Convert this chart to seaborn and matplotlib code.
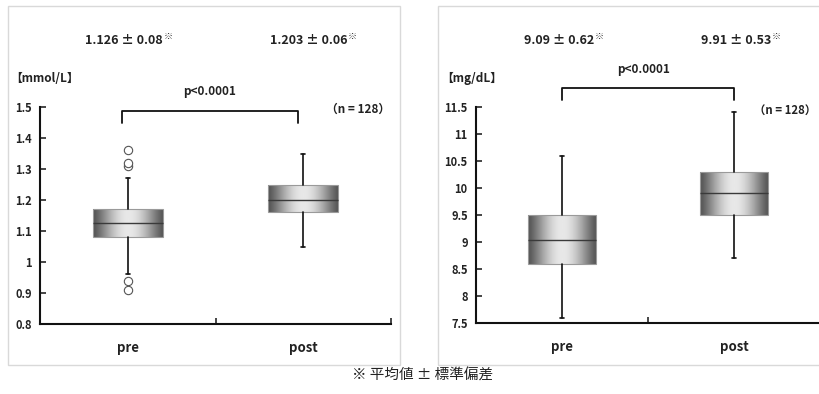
import numpy as np
import matplotlib
matplotlib.use('Agg')
import matplotlib.pyplot as plt
import matplotlib.transforms as mtransforms
from matplotlib.patches import Rectangle
import seaborn as sns

# ── Data ─────────────────────────────────────────────────────
groups = ['pre', 'post']

# left panel [mmol/L]
mmol_whislo = [0.96, 1.05]
mmol_q1 = [1.08, 1.16]
mmol_med = [1.126, 1.20]
mmol_q3 = [1.17, 1.25]
mmol_whishi = [1.27, 1.35]
mmol_fliers = [[0.91, 0.94, 1.31, 1.32, 1.36], []]
mmol_mean_sd = ['1.126 ± 0.08', '1.203 ± 0.06']
mmol_ticks = [0.8, 0.9, 1.0, 1.1, 1.2, 1.3, 1.4, 1.5]
mmol_ticklabels = ['0.8', '0.9', '1', '1.1', '1.2', '1.3', '1.4', '1.5']

# right panel [mg/dL]
mg_whislo = [7.6, 8.7]
mg_q1 = [8.6, 9.5]
mg_med = [9.03, 9.9]
mg_q3 = [9.5, 10.3]
mg_whishi = [10.6, 11.4]
mg_fliers = [[], []]
mg_mean_sd = ['9.09 ± 0.62', '9.91 ± 0.53']
mg_ticks = [7.5, 8, 8.5, 9, 9.5, 10, 10.5, 11, 11.5]
mg_ticklabels = ['7.5', '8', '8.5', '9', '9.5', '10', '10.5', '11', '11.5']

n_label = '（n = 128）'
p_label = 'p<0.0001'
caption = '※ 平均値 ± 標準偏差'

# ── Style ────────────────────────────────────────────────────
sns.set_style('ticks')
plt.rcParams['font.family'] = ['Noto Sans CJK JP', 'DejaVu Sans']
TXT = '#222222'

W, H = 819, 394
fig = plt.figure(figsize=(W / 100, H / 100), dpi=100)


def fx(px):
    return px / W


def fy(py):
    return 1 - py / H


# panel frames
for x0, x1 in [(8, 400), (438, 830)]:
    fig.add_artist(Rectangle((fx(x0), fy(365)), fx(x1) - fx(x0), fy(6) - fy(365),
                             transform=fig.transFigure, fill=False,
                             edgecolor='#d9d9d9', linewidth=1.0))

# horizontal "cylinder" shading for the boxes
g = np.linspace(0, 1, 256)
shade = 0.33 + 0.58 * np.sin(np.pi * g) ** 1.3
grad = np.tile(shade, (2, 1))


def draw_panel(ax, whislo, q1, med, q3, whishi, fliers, ylim, ticks, ticklabels):
    stats = []
    for i, name in enumerate(groups):
        stats.append(dict(label=name, whislo=whislo[i], q1=q1[i], med=med[i],
                          q3=q3[i], whishi=whishi[i], fliers=fliers[i]))
    width = 0.4
    bp = ax.bxp(stats, positions=[0, 1], widths=width, capwidths=0.025,
                patch_artist=True, showfliers=True,
                boxprops=dict(facecolor='none', edgecolor='#9a9a9a', linewidth=0.8),
                medianprops=dict(color='#3a3a3a', linewidth=1.0),
                whiskerprops=dict(color='#111111', linewidth=1.2),
                capprops=dict(color='#111111', linewidth=1.2),
                flierprops=dict(marker='o', markerfacecolor='white',
                                markeredgecolor='#555555', markersize=6,
                                markeredgewidth=0.8))
    for i, box in enumerate(bp['boxes']):
        im = ax.imshow(grad, cmap='gray', vmin=0, vmax=1, aspect='auto',
                       extent=[i - width / 2, i + width / 2, q1[i], q3[i]],
                       zorder=box.get_zorder() - 0.1, interpolation='bicubic')
        im.set_clip_path(box)
    ax.set_xlim(-0.5, 1.5)
    ax.set_ylim(*ylim)
    ax.set_yticks(ticks)
    ax.set_yticklabels(ticklabels)
    ax.set_xticks([0, 1])
    ax.set_xticklabels(groups)
    ax.set_xticks([-0.5, 0.5, 1.5], minor=True)
    ax.tick_params(axis='x', which='major', length=0, pad=12, labelsize=9.5,
                   labelcolor=TXT)
    ax.tick_params(axis='x', which='minor', direction='in', length=4, width=1.2)
    ax.tick_params(axis='y', direction='in', length=4, width=1.2, pad=6,
                   labelsize=8, labelcolor=TXT)
    for lab in ax.get_xticklabels() + ax.get_yticklabels():
        lab.set_fontweight('bold')
    sns.despine(ax=ax)
    for s in ['left', 'bottom']:
        ax.spines[s].set_linewidth(1.5)
        ax.spines[s].set_color('#111111')
    ax.patch.set_alpha(0)


# ── Left panel ───────────────────────────────────────────────
ax1 = fig.add_axes([fx(40), fy(324), fx(391) - fx(40), fy(107) - fy(324)])
draw_panel(ax1, mmol_whislo, mmol_q1, mmol_med, mmol_q3, mmol_whishi, mmol_fliers,
           (0.8, 1.5), mmol_ticks, mmol_ticklabels)

# ── Right panel ──────────────────────────────────────────────
ax2 = fig.add_axes([fx(476), fy(323), fx(820) - fx(476), fy(107) - fy(323)])
draw_panel(ax2, mg_whislo, mg_q1, mg_med, mg_q3, mg_whishi, mg_fliers,
           (7.5, 11.5), mg_ticks, mg_ticklabels)

# significance brackets
for ax, xs, ybot, ytop in [(ax1, (-0.03, 0.97), 0.926, 0.982),
                           (ax2, (0.0, 1.0), 1.032, 1.088)]:
    tr = mtransforms.blended_transform_factory(ax.transData, ax.transAxes)
    ax.plot([xs[0], xs[0], xs[1], xs[1]], [ybot, ytop, ytop, ybot],
            transform=tr, clip_on=False, color='#111111', linewidth=1.3)

# ── Annotations ──────────────────────────────────────────────
tkw = dict(color=TXT, fontweight='bold', va='center')

# mean ± SD above each box
for label, xr in zip(mmol_mean_sd + mg_mean_sd, [163, 347, 594, 771]):
    fig.text(fx(xr), fy(41), label, ha='right', fontsize=9, **tkw)
    fig.text(fx(xr + 1), fy(36), '※', ha='left', fontsize=6.5, **tkw)

fig.text(fx(10), fy(78), '【mmol/L】', ha='left', fontsize=8.5, **tkw)
fig.text(fx(441), fy(78), '【mg/dL】', ha='left', fontsize=8.5, **tkw)

fig.text(fx(210), fy(91), p_label, ha='center', fontsize=8.5, **tkw)
fig.text(fx(644), fy(70), p_label, ha='center', fontsize=8.5, **tkw)

fig.text(fx(390), fy(109), n_label, ha='right', fontsize=8.5, **tkw)
fig.text(fx(816), fy(110), n_label, ha='right', fontsize=8.2, **tkw)

fig.text(fx(423), fy(376), caption, ha='center', va='center', fontsize=10.5,
         color=TXT)

plt.savefig('out.png', dpi=100)
plt.close()
print("saved out.png")
